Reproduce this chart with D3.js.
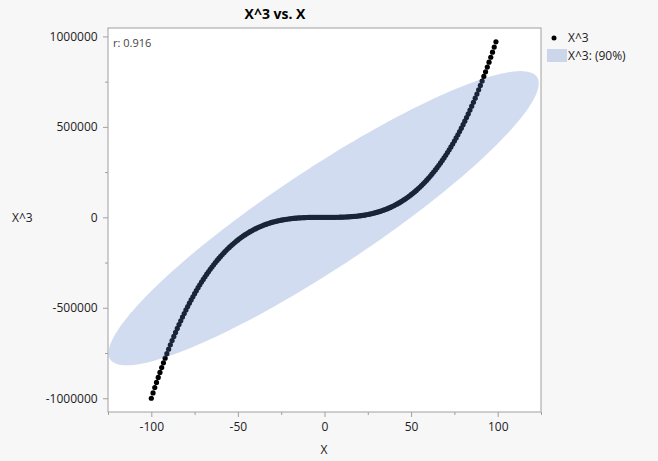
<!DOCTYPE html>
<html><head><meta charset="utf-8">
<script src="https://cdn.jsdelivr.net/npm/d3@7"></script>
<style>
body{margin:0;background:#f7f7f7;}
text{font-family:"Open Sans","Noto Sans","DejaVu Sans",sans-serif;}
</style></head>
<body><svg id="c" width="658" height="461"></svg>
<script>
const xValues = [-100,-99,-98,-97,-96,-95,-94,-93,-92,-91,-90,-89,-88,-87,-86,-85,-84,-83,-82,-81,-80,-79,-78,-77,-76,-75,-74,-73,-72,-71,-70,-69,-68,-67,-66,-65,-64,-63,-62,-61,-60,-59,-58,-57,-56,-55,-54,-53,-52,-51,-50,-49,-48,-47,-46,-45,-44,-43,-42,-41,-40,-39,-38,-37,-36,-35,-34,-33,-32,-31,-30,-29,-28,-27,-26,-25,-24,-23,-22,-21,-20,-19,-18,-17,-16,-15,-14,-13,-12,-11,-10,-9,-8,-7,-6,-5,-4,-3,-2,-1,0,1,2,3,4,5,6,7,8,9,10,11,12,13,14,15,16,17,18,19,20,21,22,23,24,25,26,27,28,29,30,31,32,33,34,35,36,37,38,39,40,41,42,43,44,45,46,47,48,49,50,51,52,53,54,55,56,57,58,59,60,61,62,63,64,65,66,67,68,69,70,71,72,73,74,75,76,77,78,79,80,81,82,83,84,85,86,87,88,89,90,91,92,93,94,95,96,97,98,99];
const yValues = [-1000000,-970299,-941192,-912673,-884736,-857375,-830584,-804357,-778688,-753571,-729000,-704969,-681472,-658503,-636056,-614125,-592704,-571787,-551368,-531441,-512000,-493039,-474552,-456533,-438976,-421875,-405224,-389017,-373248,-357911,-343000,-328509,-314432,-300763,-287496,-274625,-262144,-250047,-238328,-226981,-216000,-205379,-195112,-185193,-175616,-166375,-157464,-148877,-140608,-132651,-125000,-117649,-110592,-103823,-97336,-91125,-85184,-79507,-74088,-68921,-64000,-59319,-54872,-50653,-46656,-42875,-39304,-35937,-32768,-29791,-27000,-24389,-21952,-19683,-17576,-15625,-13824,-12167,-10648,-9261,-8000,-6859,-5832,-4913,-4096,-3375,-2744,-2197,-1728,-1331,-1000,-729,-512,-343,-216,-125,-64,-27,-8,-1,0,1,8,27,64,125,216,343,512,729,1000,1331,1728,2197,2744,3375,4096,4913,5832,6859,8000,9261,10648,12167,13824,15625,17576,19683,21952,24389,27000,29791,32768,35937,39304,42875,46656,50653,54872,59319,64000,68921,74088,79507,85184,91125,97336,103823,110592,117649,125000,132651,140608,148877,157464,166375,175616,185193,195112,205379,216000,226981,238328,250047,262144,274625,287496,300763,314432,328509,343000,357911,373248,389017,405224,421875,438976,456533,474552,493039,512000,531441,551368,571787,592704,614125,636056,658503,681472,704969,729000,753571,778688,804357,830584,857375,884736,912673,941192,970299];
const xTicks = [-100,-50,0,50,100];
const xMinorTicks = [-125,-75,-25,25,75,125];
const yTicks = [-1000000,-500000,0,500000,1000000];
const yMinorTicks = [-750000,-250000,250000,750000];
const ellipseLevel = 0.90;
const corrLabel = "r: 0.916";

const svg = d3.select("#c");
const L = 108, R = 541, T = 28, B = 412;
const x = d3.scaleLinear().domain([-125,125]).range([L,R]);
const y = d3.scaleLinear().domain([-1076000,1046500]).range([B,T]);
const fmt = d => String(d);
const ellColor = "rgb(92,128,200)", ellOpacity = 0.28;

svg.append("rect").attr("x",L).attr("y",T).attr("width",R-L).attr("height",B-T).attr("fill","#fff");

// points
const pts = xValues.map((v,i)=>({x:v,y:yValues[i]}));
svg.append("g").selectAll("circle").data(pts).join("circle")
  .attr("cx",d=>x(d.x)).attr("cy",d=>y(d.y)).attr("r",2.6).attr("fill","#000");

// density ellipse (computed from data)
const n = pts.length;
const mx = d3.mean(pts,d=>d.x), my = d3.mean(pts,d=>d.y);
let sxx=0, syy=0, sxy=0;
pts.forEach(d=>{sxx+=(d.x-mx)**2; syy+=(d.y-my)**2; sxy+=(d.x-mx)*(d.y-my);});
sxx/=(n-1); syy/=(n-1); sxy/=(n-1);
const c = Math.sqrt(-2*Math.log(1-ellipseLevel));
const l11 = Math.sqrt(sxx), l21 = sxy/l11, l22 = Math.sqrt(syy - l21*l21);
const ell = d3.range(0,361,2).map(a=>{
  const t=a*Math.PI/180, u=Math.cos(t)*c, v=Math.sin(t)*c;
  return [x(mx + l11*u), y(my + l21*u + l22*v)];
});
svg.append("path").attr("d",d3.line()(ell)+"Z").attr("fill",ellColor).attr("fill-opacity",ellOpacity);

// border
svg.append("rect").attr("x",L).attr("y",T).attr("width",R-L).attr("height",B-T).attr("fill","none").attr("stroke","#a0a0a0").attr("stroke-width",1);

// x axis
const gx = svg.append("g").attr("transform",`translate(0,${B})`);
gx.call(d3.axisBottom(x).tickValues(xTicks).tickSize(5).tickFormat(fmt));
gx.append("g").call(d3.axisBottom(x).tickValues(xMinorTicks).tickSize(3).tickFormat(""));
gx.selectAll(".domain").remove();
gx.selectAll("line").attr("stroke","#a0a0a0");
gx.selectAll("text").attr("fill","#222").attr("font-size",12).attr("dy","0.9em");

const gy = svg.append("g").attr("transform",`translate(${L},0)`);
gy.call(d3.axisLeft(y).tickValues(yTicks).tickSize(5).tickFormat(fmt));
gy.append("g").call(d3.axisLeft(y).tickValues(yMinorTicks).tickSize(3).tickFormat(""));
gy.selectAll(".domain").remove();
gy.selectAll("line").attr("stroke","#a0a0a0");
gy.selectAll("text").attr("fill","#222").attr("font-size",12).attr("dx","-0.2em");

// titles
svg.append("text").attr("x",275).attr("y",19).attr("text-anchor","middle").attr("font-weight","bold").attr("font-size",14).attr("fill","#000").text("X^3 vs. X");
svg.append("text").attr("x",324).attr("y",454).attr("text-anchor","middle").attr("font-size",12).attr("fill","#222").text("X");
svg.append("text").attr("x",12).attr("y",222).attr("font-size",12).attr("fill","#222").text("X^3");
svg.append("text").attr("x",113).attr("y",47).attr("font-size",11).attr("fill","#444").text(corrLabel);

// legend
svg.append("circle").attr("cx",554).attr("cy",38).attr("r",2.5).attr("fill","#000");
svg.append("text").attr("x",568).attr("y",42).attr("font-size",12).attr("fill","#222").text("X^3");
svg.append("rect").attr("x",547).attr("y",49).attr("width",20).attr("height",13).attr("fill",ellColor).attr("fill-opacity",ellOpacity);
svg.append("text").attr("x",568).attr("y",60).attr("font-size",12).attr("fill","#222").text("X^3: (" + Math.round(ellipseLevel*100) + "%)");
</script></body></html>
